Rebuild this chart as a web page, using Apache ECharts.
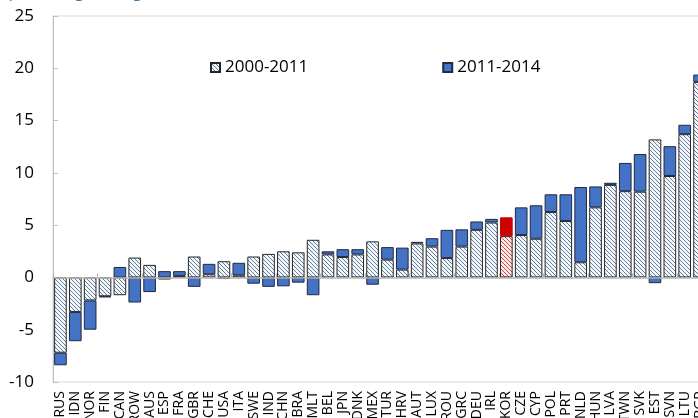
<!DOCTYPE html>
<html>
<head>
<meta charset="utf-8">
<script src="https://cdn.jsdelivr.net/npm/echarts@6/dist/echarts.min.js"></script>
<style>
  html, body { margin: 0; padding: 0; background: #fff; }
  #chart { width: 698px; height: 418px; }
</style>
</head>
<body>
<div id="chart"></div>
<script>
// countries, sorted by total change
var countries = ['RUS', 'IDN', 'NOR', 'FIN', 'CAN', 'ROW', 'AUS', 'ESP', 'FRA', 'GBR', 'CHE', 'USA', 'ITA', 'SWE', 'IND',
  'CHN', 'BRA', 'MLT', 'BEL', 'JPN', 'DNK', 'MEX', 'TUR', 'HRV', 'AUT', 'LUX', 'ROU', 'GRC', 'DEU', 'IRL', 'KOR',
  'CZE', 'CYP', 'POL', 'PRT', 'NLD', 'HUN', 'LVA', 'TWN', 'SVK', 'EST', 'SVN', 'LTU', 'BGR'];
var change0011 = [-7.2, -3.3, -2.2, -1.8, -1.7, 1.9, 1.2, -0.2, 0.15, 2.0, 0.3, 1.55, 0.2, 2.0, 2.25,
  2.5, 2.4, 3.6, 2.2, 1.95, 2.2, 3.45, 1.7, 0.75, 3.25, 2.95, 1.85, 2.95, 4.55, 5.25, 3.95,
  4.05, 3.7, 6.25, 5.4, 1.45, 6.7, 8.85, 8.25, 8.2, 13.2, 9.7, 13.7, 18.7];
var change1114 = [-1.2, -2.8, -2.8, -0.1, 1.0, -2.4, -1.4, 0.6, 0.45, -0.9, 1.0, -0.15, 1.2, -0.6, -0.9,
  -0.85, -0.5, -1.7, 0.3, 0.75, 0.5, -0.7, 1.2, 2.1, 0.15, 0.8, 2.7, 1.65, 0.8, 0.35, 1.8,
  2.65, 3.2, 1.7, 2.55, 7.2, 2.0, 0.2, 2.7, 3.6, -0.55, 2.85, 0.9, 0.7];
var yTicks = [-10, 25, 5]; // min, max, step
var highlight = 'KOR';

function hatch(bg, fg) {
  var c = document.createElement('canvas');
  c.width = 4; c.height = 4;
  var ctx = c.getContext('2d');
  ctx.fillStyle = bg;
  ctx.fillRect(0, 0, 4, 4);
  ctx.fillStyle = fg;
  for (var i = 0; i < 4; i++) {
    ctx.fillRect(i, i, 1, 1);
  }
  return { image: c, repeat: 'repeat' };
}

var blueHatch = hatch('#f4f7fa', '#5f7f9c');
var redHatch = hatch('#fbeaea', '#c84848');

var dataA = change0011.map(function (v, i) {
  if (countries[i] == highlight) {
    return { value: v, itemStyle: { color: redHatch } };
  }
  return v;
});
var dataB = change1114.map(function (v, i) {
  if (countries[i] == highlight) {
    return { value: v, itemStyle: { color: '#cc0000', borderColor: '#cc0000' } };
  }
  return v;
});

var myChart = echarts.init(document.getElementById('chart'));
var option = {
  animation: false,
  textStyle: { fontFamily: 'Open Sans' },
  graphic: [
    {
      type: 'text',
      left: 4,
      top: -16,
      style: { text: '(percentage change)', fontSize: 16, fill: '#2e75b6', fontFamily: 'Open Sans' }
    }
  ],
  legend: {
    left: 205,
    top: 54,
    itemWidth: 9,
    itemHeight: 9,
    itemGap: 134,
    icon: 'rect',
    textStyle: { fontSize: 17, color: '#000' },
    data: ['2000-2011', '2011-2014']
  },
  grid: {
    show: true,
    left: 53,
    top: 16,
    width: 654,
    height: 366,
    outerBoundsMode: 'none',
    containLabel: false,
    borderColor: '#d9d9d9',
    borderWidth: 1
  },
  xAxis: [
    {
      type: 'category',
      data: countries,
      z: 5,
      axisLine: { onZero: true, lineStyle: { color: '#b4b4b4', width: 1.5 } },
      axisTick: { show: true, inside: true, length: 4, lineStyle: { color: '#b4b4b4' } },
      axisLabel: { show: false }
    },
    {
      type: 'category',
      data: countries,
      position: 'bottom',
      axisLine: { show: false, onZero: false },
      axisTick: { show: false },
      axisLabel: { rotate: 90, fontSize: 14, color: '#000', margin: 9, interval: 0 }
    }
  ],
  yAxis: {
    type: 'value',
    min: yTicks[0],
    max: yTicks[1],
    interval: yTicks[2],
    axisLine: { show: true, lineStyle: { color: '#bfbfbf' } },
    axisTick: { show: true, inside: true, length: 5, lineStyle: { color: '#bfbfbf' } },
    splitLine: { show: false },
    axisLabel: { fontSize: 17, color: '#000', margin: 19 }
  },
  series: [
    {
      name: '2000-2011',
      type: 'bar',
      stack: 'total',
      barCategoryGap: '15%',
      data: dataA,
      itemStyle: { color: blueHatch, borderColor: '#262626', borderWidth: 1 }
    },
    {
      name: '2011-2014',
      type: 'bar',
      stack: 'total',
      barCategoryGap: '15%',
      data: dataB,
      itemStyle: { color: '#4472c4', borderColor: '#1f2a44', borderWidth: 1 }
    }
  ]
};
myChart.setOption(option);
</script>
</body>
</html>
